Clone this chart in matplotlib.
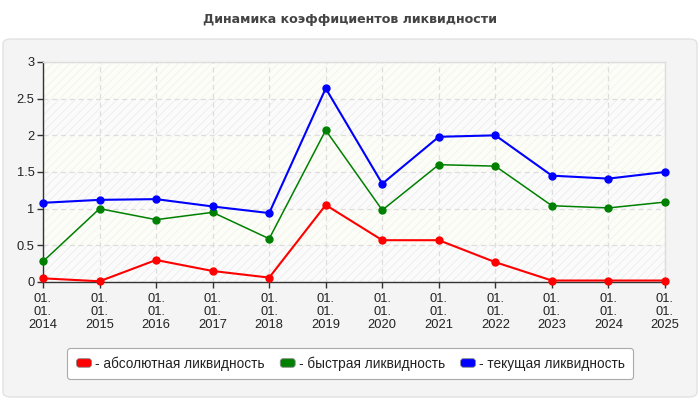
import matplotlib
matplotlib.use("Agg")
import matplotlib.pyplot as plt
from matplotlib.patches import FancyBboxPatch, Patch
from matplotlib.legend_handler import HandlerPatch

years = ["01.\n01.\n2014", "01.\n01.\n2015", "01.\n01.\n2016", "01.\n01.\n2017",
         "01.\n01.\n2018", "01.\n01.\n2019", "01.\n01.\n2020", "01.\n01.\n2021",
         "01.\n01.\n2022", "01.\n01.\n2023", "01.\n01.\n2024", "01.\n01.\n2025"]
absolute = [0.05, 0.01, 0.30, 0.15, 0.06, 1.05, 0.57, 0.57, 0.27, 0.02, 0.02, 0.02]
quick = [0.28, 1.00, 0.85, 0.95, 0.59, 2.07, 0.98, 1.60, 1.58, 1.04, 1.01, 1.09]
current = [1.08, 1.12, 1.13, 1.03, 0.94, 2.64, 1.34, 1.98, 2.00, 1.45, 1.41, 1.50]
series_labels = ["- абсолютная ликвидность", "- быстрая ликвидность", "- текущая ликвидность"]
colors = ["#ff0000", "#008000", "#0000ff"]
title = "Динамика коэффициентов ликвидности"
yticks = [0, 0.5, 1, 1.5, 2, 2.5, 3]
ytick_labels = ["0", "0.5", "1", "1.5", "2", "2.5", "3"]

plt.rcParams['font.family'] = ['Liberation Sans', 'DejaVu Sans']
plt.rcParams['hatch.linewidth'] = 0.6

W, H = 700, 400
fig = plt.figure(figsize=(7, 4), dpi=100)
fig.patch.set_facecolor("white")

# panel
panel = FancyBboxPatch((3 / W, 3 / H), 694 / W, 358 / H,
                       boxstyle="round,pad=0,rounding_size=0.012",
                       transform=fig.transFigure, facecolor="#f4f4f4",
                       edgecolor="#e2e2e2", linewidth=1, zorder=-5)
fig.patches.append(panel)

fig.text(0.5, 1 - 20 / H, title, ha="center", va="center", fontsize=9.1,
         fontweight="bold", color="#444444", family=["DejaVu Sans"])

ax = fig.add_axes([43 / W, 1 - 282 / H, 622 / W, 220 / H])
ax.set_zorder(2)
ax.set_facecolor("#fdfdf8")
x = list(range(len(years)))
for i in range(6):
    lo, hi = i * 0.5, (i + 1) * 0.5
    ax.axhspan(lo, hi, facecolor="#fdfdf7" if i % 2 else "#fbfbfb",
               edgecolor="#ececec" if i % 2 == 0 else "#f3f3ee",
               hatch="////", linewidth=0, zorder=0)

ax.grid(True, color="#dddddd", linestyle=(0, (4, 3)), linewidth=0.9, zorder=1)
ax.set_axisbelow(True)

lws = [1.5, 1.1, 1.5]
for vals, c, lw in zip([absolute, quick, current], colors, lws):
    ax.plot(x, vals, color=c, linewidth=lw, marker="o", markersize=5, zorder=3,
            clip_on=False)

ax.set_xlim(0, len(years) - 1)
ax.set_ylim(0, 3)
ax.set_xticks(x)
ax.set_xticklabels(years, fontsize=9.3, color="#222222", linespacing=1.08)
ax.set_yticks(yticks)
ax.set_yticklabels(ytick_labels, fontsize=9.3, color="#222222")
ax.tick_params(axis="both", length=4, width=1, color="#333333", pad=2)
ax.tick_params(axis="x", pad=4)
for s in ["top", "right"]:
    ax.spines[s].set_color("#dddddd")
    ax.spines[s].set_linewidth(1)
for s in ["left", "bottom"]:
    ax.spines[s].set_color("#333333")
    ax.spines[s].set_linewidth(1)


class RoundHandler(HandlerPatch):
    def create_artists(self, legend, orig_handle, xdescent, ydescent, width,
                       height, fontsize, trans):
        p = FancyBboxPatch((-xdescent + 1, -ydescent + 0.5), width - 2, height - 1,
                           boxstyle="round,pad=0,rounding_size=2",
                           facecolor=orig_handle.get_facecolor(),
                           edgecolor="#888888", linewidth=0.6, transform=trans)
        return [p]


handles = [Patch(facecolor=c) for c in colors]
leg = fig.legend(handles, series_labels, loc="center", ncol=3, mode="expand",
                 bbox_to_anchor=(67 / W, 1 - 382 / H, 566 / W, 37 / H),
                 bbox_transform=fig.transFigure, fontsize=9.8, frameon=True,
                 fancybox=True, edgecolor="#aaaaaa", facecolor="white",
                 framealpha=1, handlelength=1.3, handleheight=0.75,
                 handletextpad=0.15, borderaxespad=0, borderpad=0.6,
                 handler_map={Patch: RoundHandler()})
leg.get_frame().set_linewidth(0.8)
for t in leg.get_texts():
    t.set_color("#222222")

fig.savefig("out.png", dpi=100, facecolor=fig.get_facecolor())
